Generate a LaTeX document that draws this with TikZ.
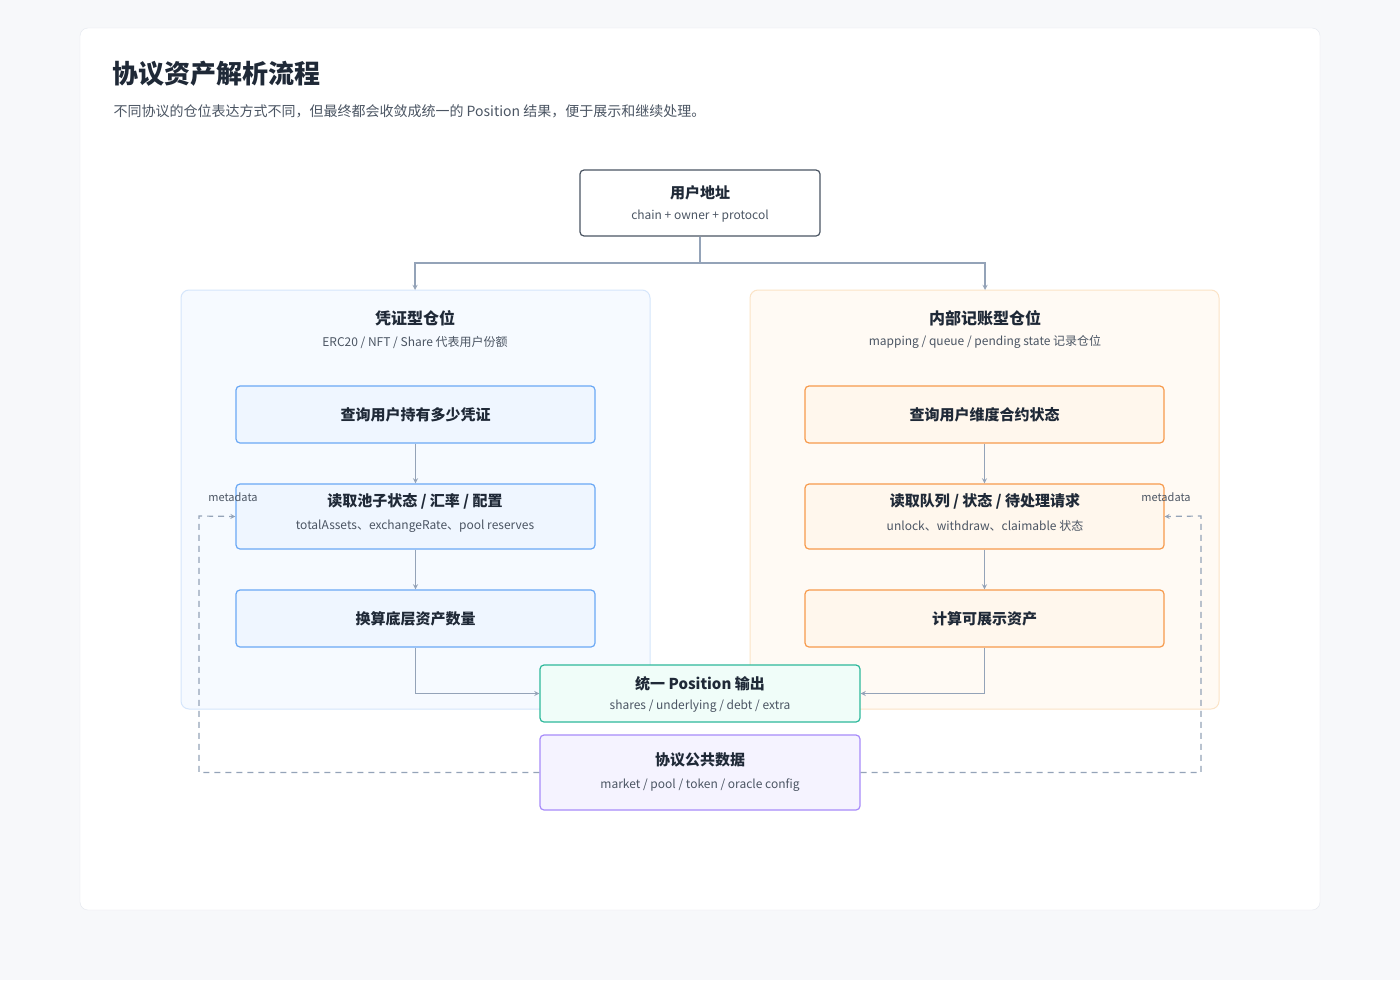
\documentclass[tikz,border=0pt]{standalone}
\usepackage{fontspec}
\setmainfont{Noto Sans CJK SC}
\usetikzlibrary{positioning}
\definecolor{pagebg}{HTML}{F7F8FA}
\definecolor{cardline}{HTML}{E3E7EE}
\definecolor{ink}{HTML}{1F2937}
\definecolor{subink}{HTML}{4B5563}
\definecolor{wire}{HTML}{94A3B8}
\definecolor{bluefill}{HTML}{EFF6FF}
\definecolor{blueline}{HTML}{6AA8F5}
\definecolor{bluegroup}{HTML}{F6FAFF}
\definecolor{bluegline}{HTML}{D5E6FB}
\definecolor{orgfill}{HTML}{FFF7ED}
\definecolor{orgline}{HTML}{F79A4C}
\definecolor{orggroup}{HTML}{FFFAF4}
\definecolor{orggline}{HTML}{FBE3C6}
\definecolor{tealfill}{HTML}{F0FDF9}
\definecolor{tealline}{HTML}{2DB89B}
\definecolor{purpfill}{HTML}{F5F3FF}
\definecolor{purpline}{HTML}{A78BFA}
\tikzset{
  box/.style={draw, rounded corners=4pt, line width=1.2pt, align=center, inner sep=0pt},
  group/.style={draw, rounded corners=8pt, line width=1pt},
  flow/.style={draw=wire, line width=1.3pt, ->},
  feed/.style={draw=wire, line width=1.2pt, dashed, dash pattern=on 6pt off 5pt, ->},
  head/.style={font=\fontsize{15}{18}\selectfont\bfseries, text=ink},
  tail/.style={font=\fontsize{12}{14}\selectfont, text=subink},
}
\begin{document}
\begin{tikzpicture}[x=1pt, y=-1pt, >=stealth]
\useasboundingbox (0,0) rectangle (1400,980);
\fill[pagebg] (0,0) rectangle (1400,980);
\draw[cardline, fill=white, rounded corners=8pt] (80,28) rectangle (1320,910);
% title
\node[anchor=west, font=\fontsize{26}{30}\selectfont\bfseries, text=ink] (title) at (109,74) {协议资产解析流程};
\node[anchor=west, font=\fontsize{14}{17}\selectfont, text=subink] (subtitle) at (110,111) {不同协议的仓位表达方式不同，但最终都会收敛成统一的 Position 结果，便于展示和继续处理。};
% groups
\draw[group, draw=bluegline, fill=bluegroup] (181,290) rectangle (650,709);
\draw[group, draw=orggline, fill=orggroup] (750,290) rectangle (1219,709);
\coordinate (ltop) at (415,290);
\coordinate (rtop) at (985,290);
\node[head, font=\fontsize{16}{19}\selectfont\bfseries] (lname) at (415,318) {凭证型仓位};
\node[tail] (lsub) at (415,342) {ERC20 / NFT / Share 代表用户份额};
\node[head, font=\fontsize{16}{19}\selectfont\bfseries] (rname) at (985,318) {内部记账型仓位};
\node[tail] (rsub) at (985,342) {mapping / queue / pending state 记录仓位};
% user
\node[box, draw=subink, fill=white, minimum width=240pt, minimum height=66pt] (user) at (700,203) {};
\node[head] at (700,193) {用户地址};
\node[tail] at (700,216) {chain + owner + protocol};
% left column
\node[box, draw=blueline, fill=bluefill, minimum width=359pt, minimum height=57pt] (l1) at (415.5,414.5) {};
\node[head] at (l1) {查询用户持有多少凭证};
\node[box, draw=blueline, fill=bluefill, minimum width=359pt, minimum height=65pt] (l2) at (415.5,516.5) {};
\node[head] at (415,501) {读取池子状态 / 汇率 / 配置};
\node[tail] at (415,526) {totalAssets、exchangeRate、pool reserves};
\node[box, draw=blueline, fill=bluefill, minimum width=359pt, minimum height=57pt] (l3) at (415.5,618.5) {};
\node[head] at (l3) {换算底层资产数量};
% right column
\node[box, draw=orgline, fill=orgfill, minimum width=359pt, minimum height=57pt] (r1) at (984.5,414.5) {};
\node[head] at (r1) {查询用户维度合约状态};
\node[box, draw=orgline, fill=orgfill, minimum width=359pt, minimum height=65pt] (r2) at (984.5,516.5) {};
\node[head] at (985,501) {读取队列 / 状态 / 待处理请求};
\node[tail] at (985,526) {unlock、withdraw、claimable 状态};
\node[box, draw=orgline, fill=orgfill, minimum width=359pt, minimum height=57pt] (r3) at (984.5,618.5) {};
\node[head] at (r3) {计算可展示资产};
% outputs
\node[box, draw=tealline, fill=tealfill, minimum width=320pt, minimum height=57pt] (pos) at (700,693.5) {};
\node[head] at (700,684) {统一 Position 输出};
\node[tail] at (700,706) {shares / underlying / debt / extra};
\node[box, draw=purpline, fill=purpfill, minimum width=320pt, minimum height=75pt] (meta) at (700,772.5) {};
\node[head] at (700,760) {协议公共数据};
\node[tail] at (700,785) {market / pool / token / oracle config};
% connectors
\draw[flow] (user.south) -- (700,263) -| (ltop);
\draw[flow] (user.south) -- (700,263) -| (rtop);
\draw[flow] (l1) -- (l2);
\draw[flow] (l2) -- (l3);
\draw[flow] (r1) -- (r2);
\draw[flow] (r2) -- (r3);
\draw[flow] (l3.south) |- (pos.west);
\draw[flow] (r3.south) |- (pos.east);
\draw[feed] (meta.west) -| (199,516) -- (l2.west);
\draw[feed] (meta.east) -| (1201,516) -- (r2.east);
\node[font=\fontsize{11}{13}\selectfont, text=subink] (lmeta) at (233,497) {metadata};
\node[font=\fontsize{11}{13}\selectfont, text=subink] (rmeta) at (1166,497) {metadata};
\end{tikzpicture}
\end{document}
